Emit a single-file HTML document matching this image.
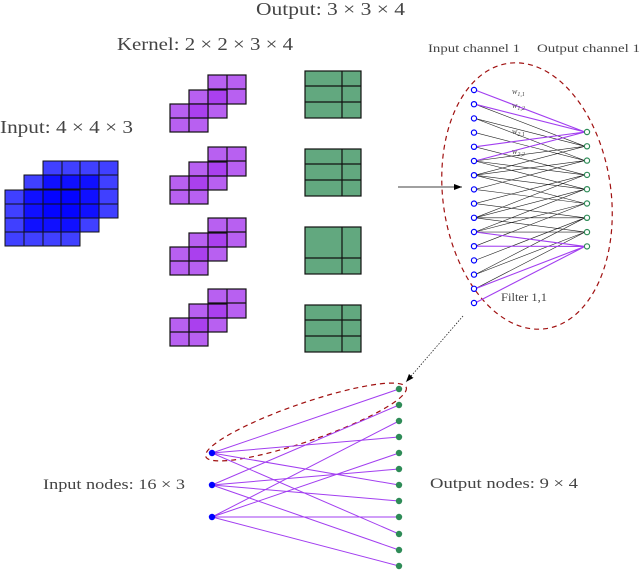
<!DOCTYPE html>
<html><head><meta charset="utf-8"><style>
html,body{margin:0;padding:0;background:#fff;}
svg{display:block;}
text{font-family:"Liberation Serif",serif;fill:#444;}
</style></head><body>
<svg width="640" height="570" viewBox="0 0 640 570" xmlns="http://www.w3.org/2000/svg">
<defs>
<marker id="ah" markerWidth="8" markerHeight="6" refX="8" refY="3" orient="auto" markerUnits="userSpaceOnUse"><path d="M0,0 L8,3 L0,6 z" fill="#000"/></marker>
</defs>
<text x="256" y="15" font-size="18" textLength="149" lengthAdjust="spacingAndGlyphs">Output: 3 × 3 × 4</text>
<text x="117" y="50" font-size="18" textLength="176" lengthAdjust="spacingAndGlyphs">Kernel: 2 × 2 × 3 × 4</text>
<text x="0" y="133" font-size="18" textLength="133" lengthAdjust="spacingAndGlyphs">Input: 4 × 4 × 3</text>
<text x="428" y="52" font-size="12" textLength="92" lengthAdjust="spacingAndGlyphs">Input channel 1</text>
<text x="537" y="52" font-size="12" textLength="103" lengthAdjust="spacingAndGlyphs">Output channel 1</text>

<!-- blue input -->
<g stroke="#111" stroke-width="1" fill="#0000ff" fill-opacity="0.75">
<g><rect x="43" y="161" width="75" height="57"/><path d="M62 161V218M80 161V218M99 161V218M43 175H118M43 189H118M43 204H118" fill="none"/></g>
<g><rect x="24" y="175" width="75" height="57"/><path d="M43 175V232M61 175V232M80 175V232M24 189H99M24 204H99M24 218H99" fill="none"/></g>
<g><rect x="5" y="190" width="75" height="56"/><path d="M24 190V246M43 190V246M61 190V246M5 204H80M5 218H80M5 232H80" fill="none"/></g>
</g>

<!-- kernels -->
<g stroke="#111" stroke-width="1.2" fill="#a638ee" fill-opacity="0.8">
<g transform="translate(0,0)">
<rect x="208" y="75" width="38" height="29"/><path d="M227 75V104M208 89H246" fill="none"/>
<rect x="189" y="90" width="38" height="28"/><path d="M208 90V118M189 104H227" fill="none"/>
<rect x="170" y="104" width="38" height="28"/><path d="M189 104V132M170 118H208" fill="none"/>
</g>
<g transform="translate(0,72)">
<rect x="208" y="75" width="38" height="29"/><path d="M227 75V104M208 89H246" fill="none"/>
<rect x="189" y="90" width="38" height="28"/><path d="M208 90V118M189 104H227" fill="none"/>
<rect x="170" y="104" width="38" height="28"/><path d="M189 104V132M170 118H208" fill="none"/>
</g>
<g transform="translate(0,143)">
<rect x="208" y="75" width="38" height="29"/><path d="M227 75V104M208 89H246" fill="none"/>
<rect x="189" y="90" width="38" height="28"/><path d="M208 90V118M189 104H227" fill="none"/>
<rect x="170" y="104" width="38" height="28"/><path d="M189 104V132M170 118H208" fill="none"/>
</g>
<g transform="translate(0,214)">
<rect x="208" y="75" width="38" height="29"/><path d="M227 75V104M208 89H246" fill="none"/>
<rect x="189" y="90" width="38" height="28"/><path d="M208 90V118M189 104H227" fill="none"/>
<rect x="170" y="104" width="38" height="28"/><path d="M189 104V132M170 118H208" fill="none"/>
</g>
</g>

<!-- green outputs -->
<g stroke="#111" stroke-width="1.2" fill="#62a87f">
<g><rect x="305" y="71" width="56" height="47"/><path d="M342 71V118M305 86H361M305 102H361" fill="none"/></g>
<g><rect x="305" y="149" width="56" height="47"/><path d="M342 149V196M305 164H361M305 180H361" fill="none"/></g>
<g><rect x="305" y="227" width="56" height="47"/><path d="M342 227V274M305 258H361" fill="none"/></g>
<g><rect x="305" y="305" width="56" height="47"/><path d="M342 305V352M305 320H361M305 336H361" fill="none"/></g>
</g>

<line x1="398" y1="187" x2="462" y2="187" stroke="#000" stroke-width="0.8" marker-end="url(#ah)"/>

<ellipse cx="527" cy="196" rx="84" ry="134" fill="none" stroke="#a01010" stroke-width="1.2" stroke-dasharray="5,4" transform="rotate(-8 527 196)"/>

<g stroke="#222" stroke-width="0.6" fill="none">
<path d="M475 104.2L585 146.3M475 118.4L585 146.3M475 161L585 146.3M475 175.2L585 146.3"/>
<path d="M475 118.4L585 160.6M475 132.6L585 160.6M475 175.2L585 160.6M475 189.4L585 160.6"/>
<path d="M475 146.8L585 174.9M475 161L585 174.9M475 203.6L585 174.9M475 217.8L585 174.9"/>
<path d="M475 161L585 189.2M475 175.2L585 189.2M475 217.8L585 189.2M475 232L585 189.2"/>
<path d="M475 175.2L585 203.5M475 189.4L585 203.5M475 232L585 203.5M475 246.2L585 203.5"/>
<path d="M475 203.6L585 217.8M475 217.8L585 217.8M475 260.4L585 217.8M475 274.6L585 217.8"/>
<path d="M475 217.8L585 232.1M475 232L585 232.1M475 274.6L585 232.1M475 288.8L585 232.1"/>
</g>
<g stroke="#a23ef0" stroke-width="1.1" fill="none">
<path d="M475 90L585 132M475 104.2L585 132M475 146.8L585 132M475 161L585 132"/>
<path d="M475 232L585 246.4M475 246.2L585 246.4M475 288.8L585 246.4M475 303L585 246.4"/>
</g>
<g fill="#fff" stroke="#0000ff" stroke-width="1.2">
<circle cx="474" cy="90" r="2.6"/><circle cx="474" cy="104.2" r="2.6"/><circle cx="474" cy="118.4" r="2.6"/><circle cx="474" cy="132.6" r="2.6"/>
<circle cx="474" cy="146.8" r="2.6"/><circle cx="474" cy="161" r="2.6"/><circle cx="474" cy="175.2" r="2.6"/><circle cx="474" cy="189.4" r="2.6"/>
<circle cx="474" cy="203.6" r="2.6"/><circle cx="474" cy="217.8" r="2.6"/><circle cx="474" cy="232" r="2.6"/><circle cx="474" cy="246.2" r="2.6"/>
<circle cx="474" cy="260.4" r="2.6"/><circle cx="474" cy="274.6" r="2.6"/><circle cx="474" cy="288.8" r="2.6"/><circle cx="474" cy="303" r="2.6"/>
</g>
<g fill="#fff" stroke="#2e8b57" stroke-width="1.2">
<circle cx="587" cy="132" r="2.6"/><circle cx="587" cy="146.3" r="2.6"/><circle cx="587" cy="160.6" r="2.6"/><circle cx="587" cy="174.9" r="2.6"/>
<circle cx="587" cy="189.2" r="2.6"/><circle cx="587" cy="203.5" r="2.6"/><circle cx="587" cy="217.8" r="2.6"/><circle cx="587" cy="232.1" r="2.6"/><circle cx="587" cy="246.4" r="2.6"/>
</g>
<g font-size="8" font-style="italic">
<text x="512" y="94">w<tspan font-size="6" dy="2">1,1</tspan></text>
<text x="512" y="108">w<tspan font-size="6" dy="2">1,2</tspan></text>
<text x="512" y="134">w<tspan font-size="6" dy="2">2,1</tspan></text>
<text x="512" y="154">w<tspan font-size="6" dy="2">2,2</tspan></text>
</g>
<text x="501" y="301" font-size="12" textLength="46" lengthAdjust="spacingAndGlyphs">Filter 1,1</text>

<line x1="463" y1="316" x2="406" y2="382" stroke="#222" stroke-width="0.8" stroke-dasharray="1.5,1.5" marker-end="url(#ah)"/>

<ellipse cx="306" cy="422" rx="106" ry="19" fill="none" stroke="#a01010" stroke-width="1.2" stroke-dasharray="5,4" transform="rotate(-19 306 422)"/>
<g stroke="#a23ef0" stroke-width="1" fill="none">
<path d="M212 453L399 389M212 453L399 437M212 453L399 485M212 453L399 534"/>
<path d="M212 485L399 405M212 485L399 469M212 485L399 501M212 485L399 550"/>
<path d="M212 517L399 421M212 517L399 453M212 517L399 517M212 517L399 566"/>
</g>
<g fill="#0000ff"><circle cx="212" cy="453" r="3.2"/><circle cx="212" cy="485" r="3.2"/><circle cx="212" cy="517" r="3.2"/></g>
<g fill="#2e8b57">
<circle cx="399" cy="389" r="3.2"/><circle cx="399" cy="405" r="3.2"/><circle cx="399" cy="421" r="3.2"/><circle cx="399" cy="437" r="3.2"/>
<circle cx="399" cy="453" r="3.2"/><circle cx="399" cy="469" r="3.2"/><circle cx="399" cy="485" r="3.2"/><circle cx="399" cy="501" r="3.2"/>
<circle cx="399" cy="517" r="3.2"/><circle cx="399" cy="534" r="3.2"/><circle cx="399" cy="550" r="3.2"/><circle cx="399" cy="566" r="3.2"/>
</g>
<text x="43" y="489" font-size="15" textLength="142" lengthAdjust="spacingAndGlyphs">Input nodes: 16 × 3</text>
<text x="430" y="488" font-size="15" textLength="148" lengthAdjust="spacingAndGlyphs">Output nodes: 9 × 4</text>
</svg>
</body></html>
